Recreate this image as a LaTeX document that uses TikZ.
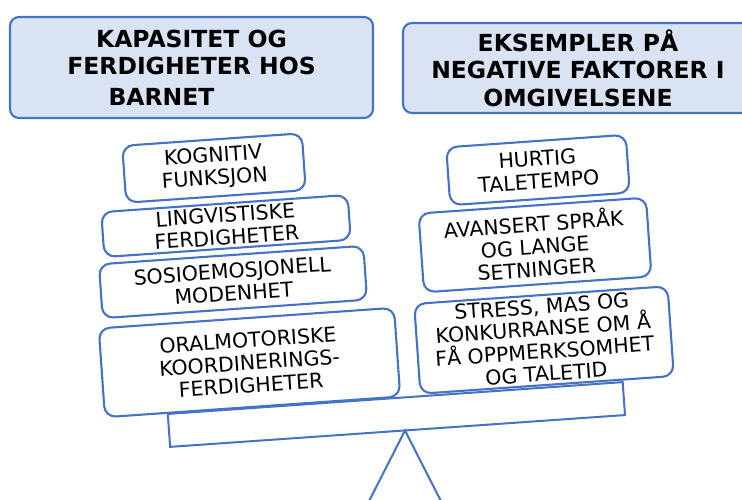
\documentclass[tikz,border=0pt]{standalone}
\usepackage{fontspec}
\setmainfont{DejaVu Sans}
\definecolor{boxblue}{HTML}{4472C4}
\definecolor{headfill}{HTML}{DAE3F3}

\begin{document}
\begin{tikzpicture}[x=1pt,y=-1pt]

        \tikzset{
            headbox/.style={draw=boxblue, fill=headfill, line width=2.1pt, rounded corners=9pt,
                align=center, inner sep=0pt, font=\bfseries\fontsize{23.5}{27.5}\selectfont},
            itembox/.style={draw=boxblue, fill=white, line width=2.1pt, rounded corners=11pt,
                align=center, inner sep=0pt, rotate=4, font=\fontsize{20.5}{22.5}\selectfont},
            tray/.style={draw=boxblue, line width=2pt, rotate=4, inner sep=0pt},
            leg/.style={draw=boxblue, line width=2pt}
        }

        \useasboundingbox (0,0) rectangle (742,499);
        \clip (0,0) rectangle (742,499);

        \node[tray, minimum width=456, minimum height=33] (scale) at (396.4,414.5) {};

        \coordinate (pivot) at (405,430.5);
        \coordinate (footL) at (365,509);
        \coordinate (footR) at (445,509);

        \draw[leg] (footL) -- (pivot) -- (footR);

        \node[headbox, minimum width=363, minimum height=101] (capacity) at (191.5,67.5)
        {KAPASITET OG\\FERDIGHETER HOS\\[3pt]BARNET\hspace*{60pt}};
        \node[headbox, minimum width=350, minimum height=90] (factors) at (578,68)
        {EKSEMPLER PÅ\\NEGATIVE FAKTORER I\\OMGIVELSENE};

        \node[itembox, minimum width=180, minimum height=57] (cognitive) at (214,168)
        {KOGNITIV\\FUNKSJON};
        \node[itembox, minimum width=247, minimum height=45] (linguistic) at (226,226)
        {LINGVISTISKE\\FERDIGHETER};
        \node[itembox, minimum width=265, minimum height=54] (social) at (233,282)
        {SOSIOEMOSJONELL\\MODENHET};
        \node[itembox, minimum width=296, minimum height=89] (oralmotor) at (249.5,362.5)
        {ORALMOTORISKE\\KOORDINERINGS-\\FERDIGHETER};

        \node[itembox, minimum width=180, minimum height=58] (tempo) at (538,170)
        {HURTIG\\TALETEMPO};
        \node[itembox, minimum width=228, minimum height=79] (language) at (535,245)
        {AVANSERT SPRÅK\\OG LANGE\\SETNINGER};
        \node[itembox, minimum width=254, minimum height=90] (stress) at (544,340)
        {STRESS, MAS OG\\KONKURRANSE OM Å\\FÅ OPPMERKSOMHET\\OG TALETID};

    \end{tikzpicture}
\end{document}
